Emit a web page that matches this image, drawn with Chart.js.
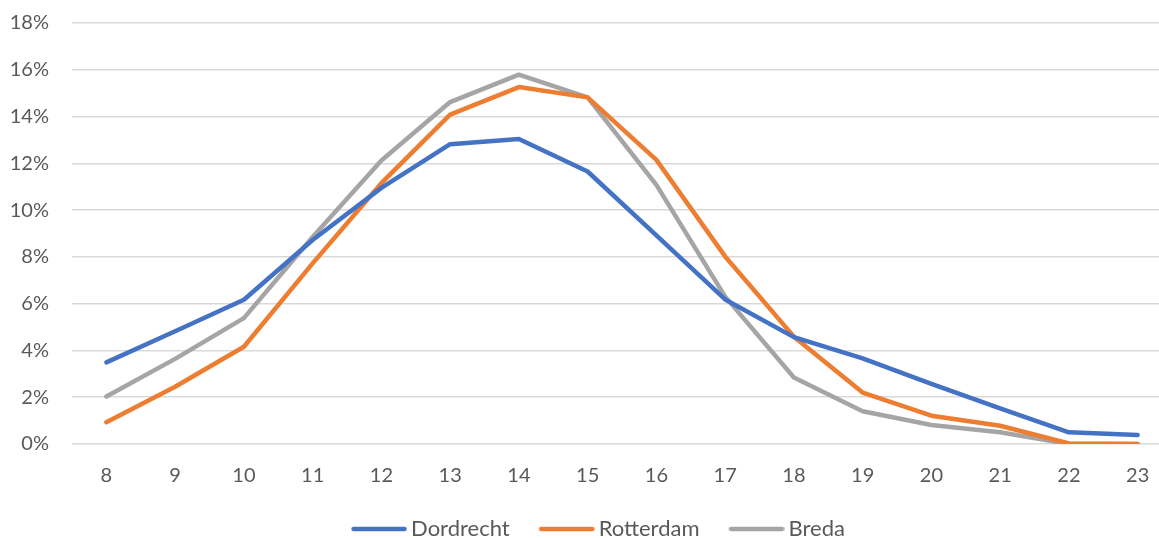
<!DOCTYPE html>
<html>
<head>
<meta charset="utf-8">
<script src="https://cdn.jsdelivr.net/npm/chart.js@4/dist/chart.umd.min.js"></script>
<style>
  html, body { margin: 0; padding: 0; background: #fff; overflow: hidden; }
  #wrap { width: 1173px; height: 538px; position: relative; }
</style>
</head>
<body>
<div id="wrap"><canvas id="c"></canvas></div>
<script>
// Hour of day
const hours = ['8', '9', '10', '11', '12', '13', '14', '15', '16', '17', '18', '19', '20', '21', '22', '23'];

// Share per hour (%)
const dordrecht = [3.49, 4.82, 6.17, 8.72, 10.95, 12.82, 13.04, 11.65, 8.92, 6.18, 4.57, 3.66, 2.57, 1.52, 0.50, 0.39];
const rotterdam = [0.93, 2.45, 4.16, 7.72, 11.15, 14.08, 15.26, 14.82, 12.15, 8.02, 4.59, 2.20, 1.21, 0.78, 0.02, 0.00];
const breda     = [2.03, 3.64, 5.38, 8.85, 12.12, 14.62, 15.79, 14.82, 11.08, 6.30, 2.84, 1.40, 0.81, 0.50, 0.00, 0.00];

const FONT = 'Lato, "Open Sans", sans-serif';
const TEXT = '#595959';
const LINE_W = 4.5;

// Legend swatch: a short round-capped stroke, offset so it runs right up to the label
function swatch(color) {
  const c = document.createElement('canvas');
  c.width = 63; c.height = 8;
  const g = c.getContext('2d');
  g.strokeStyle = color;
  g.lineWidth = LINE_W;
  g.lineCap = 'round';
  g.beginPath();
  g.moveTo(9.5, 4);
  g.lineTo(60.5, 4);
  g.stroke();
  return c;
}

function series(label, data, color) {
  return {
    label, data,
    borderColor: color,
    backgroundColor: color,
    borderWidth: LINE_W,
    borderCapStyle: 'round',
    borderJoinStyle: 'round',
    pointStyle: swatch(color),
    pointRadius: 0,
    pointHoverRadius: 0,
    tension: 0,
    fill: false
  };
}

// Move the legend a little from where the layout puts it
const legendShift = {
  id: 'legendShift',
  afterLayout(chart) {
    const lg = chart.legend;
    if (!lg) return;
    lg.left += 12; lg.right += 12;
    lg.top += 1.5; lg.bottom += 1.5;
  }
};

new Chart(document.getElementById('c'), {
  type: 'line',
  data: {
    labels: hours,
    datasets: [
      series('Dordrecht', dordrecht, '#4472C4'),
      series('Rotterdam', rotterdam, '#ED7D31'),
      series('Breda', breda, '#A5A5A5')
    ]
  },
  plugins: [legendShift],
  options: {
    responsive: true,
    maintainAspectRatio: false,
    animation: false,
    layout: { padding: { top: 23, right: 1, bottom: -10.5, left: 0 } },
    plugins: {
      tooltip: { enabled: false },
      legend: {
        position: 'bottom',
        labels: {
          usePointStyle: true,
          pointStyleWidth: 49,
          boxHeight: 22,
          padding: 29,
          color: TEXT,
          font: { family: FONT, size: 22 }
        }
      }
    },
    scales: {
      x: {
        offset: true,
        afterFit(scale) { scale.height = 43.5; },
        grid: { display: false },
        border: { display: false },
        ticks: {
          color: TEXT,
          padding: 11.5,
          font: { family: FONT, size: 20 },
          maxRotation: 0
        }
      },
      y: {
        min: 0,
        max: 18,
        afterFit(scale) {
          scale.width = 72;
          scale.paddingTop = 0;
          scale.paddingBottom = 0;
        },
        border: { display: false },
        grid: { color: '#d9d9d9', lineWidth: 1.5, drawTicks: false },
        ticks: {
          stepSize: 2,
          padding: 23,
          color: TEXT,
          font: { family: FONT, size: 20 },
          callback: v => v + '%'
        }
      }
    }
  }
});
</script>
</body>
</html>
